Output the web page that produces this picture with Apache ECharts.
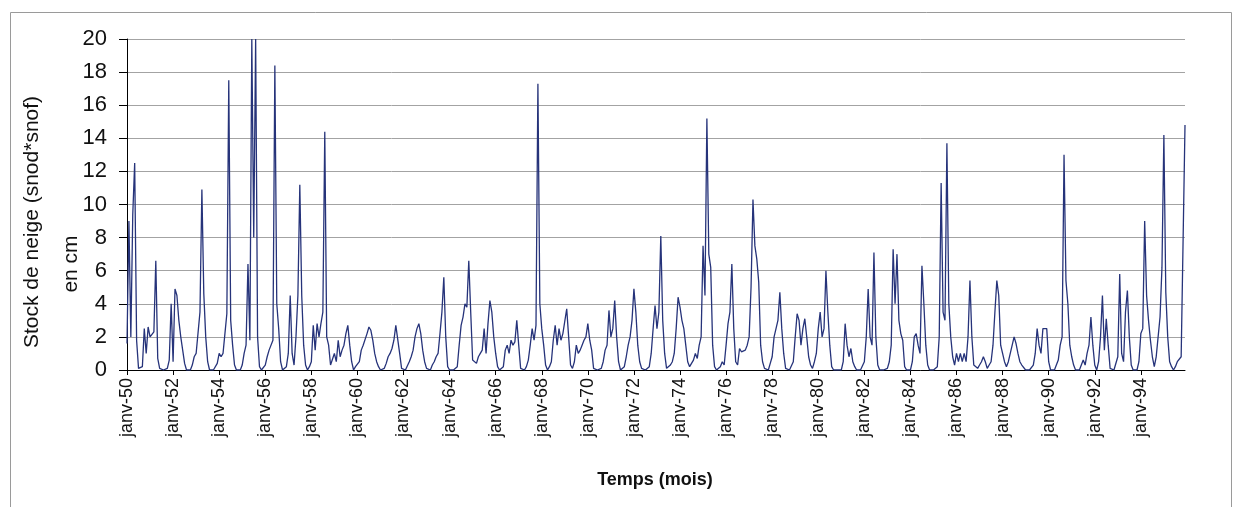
<!DOCTYPE html>
<html lang="fr">
<head>
<meta charset="UTF-8">
<title>Stock de neige</title>
<style>
  html, body { margin: 0; padding: 0; background: #fff; }
  #main { width: 1236px; height: 507px; }
</style>
</head>
<body>
<div id="main"></div>

<script src="https://cdn.jsdelivr.net/npm/echarts@6.0.0/dist/echarts.min.js"></script>
<script>
    // valeurs mensuelles (cm), une ligne = une année (janv -> déc)
    var moisNoms = ['janv', 'févr', 'mars', 'avr', 'mai', 'juin', 'juil', 'août', 'sept', 'oct', 'nov', 'déc'];
    var anneeDebut = 1950;

    var stock50s = [
        1.6, 9.0, 2.0, 9.4, 12.5, 1.8, 0.1, 0, 0.2, 2.5, 1.0, 2.6,
        2.0, 1.9, 2.3, 6.6, 0.7, 0.1, 0, 0, 0, 0.1, 0.6, 4.0,
        0.5, 4.9, 4.5, 3.0, 2.0, 1.2, 0.4, 0, 0, 0, 0.3, 0.8,
        1.0, 1.0, 3.5, 10.9, 4.6, 2.0, 0.5, 0, 0, 0, 0, 0.4,
        1.0, 0.8, 1.0, 2.2, 3.4, 17.5, 3.0, 1.5, 0.3, 0, 0, 0,
        0.3, 1.0, 1.5, 6.4, 1.8, 20, 8.0, 20, 2.0, 0.2, 0, 0,
        0.3, 0.8, 1.2, 1.2, 1.8, 18.4, 4.0, 2.5, 0.5, 0, 0, 0.2,
        1.0, 4.5, 1.0, 0.3, 2.0, 4.5, 11.2, 4.5, 1.5, 0.3, 0, 0.2,
        0.5, 2.7, 1.2, 2.8, 2.0, 2.8, 3.5, 14.4, 2.0, 1.5, 0.3, 0.2,
        1.0, 0.5, 1.8, 0.8, 1.2, 1.5, 2.2, 2.7, 1.5, 0.5, 0, 0.2
    ];
    var stock60s = [
        0.3, 0.5, 1.2, 1.5, 1.6, 2.2, 2.6, 2.4, 1.8, 1.0, 0.5, 0.2,
        0, 0, 0.1, 0.4, 0.8, 1.0, 1.3, 1.8, 2.7, 2.6, 1.0, 0.1,
        0, 0, 0, 0.5, 0.8, 1.2, 2.0, 2.5, 2.8, 2.2, 1.2, 0.5,
        0.1, 0, 0, 0.3, 0.5, 0.8, 1.0, 2.2, 3.5, 5.6, 2.0, 0.2,
        0, 0, 0, 0, 0.2, 1.5, 2.7, 3.2, 4.0, 3.8, 6.6, 3.5,
        0.6, 0.5, 0.4, 0.8, 1.0, 1.2, 2.5, 1.0, 2.8, 4.2, 3.5, 2.0,
        1.0, 0.2, 0, 0.1, 0.2, 1.2, 1.5, 1.0, 1.8, 1.5, 1.7, 3.0,
        1.5, 0.1, 0, 0, 0.2, 0.6, 1.5, 2.5, 1.8, 2.7, 17.3, 4.0,
        2.5, 1.5, 0.3, 0, 0.2, 0.5, 1.8, 2.7, 1.5, 2.5, 1.8, 2.2,
        2.2, 3.7, 2.0, 0.3, 0.1, 0.5, 1.5, 1.0, 1.2, 1.5, 1.8, 2.0
    ];
    var stock70s = [
        2.8, 1.8, 1.2, 0.1, 0, 0, 0, 0.1, 0.5, 1.2, 1.5, 3.6,
        2.0, 2.5, 4.2, 2.0, 0.5, 0, 0, 0.2, 0.8, 1.5, 2.0, 3.0,
        4.9, 3.5, 1.5, 0.5, 0.1, 0, 0, 0, 0.2, 1.0, 2.5, 3.9,
        2.5, 3.5, 8.1, 3.0, 1.0, 0.1, 0, 0.3, 0.5, 1.0, 2.5, 4.4,
        3.8, 3.0, 2.5, 1.5, 0.5, 0.2, 0.4, 0.6, 1.0, 0.7, 1.5, 2.0,
        7.5, 4.5, 15.2, 7.0, 6.2, 1.5, 0.2, 0, 0, 0.2, 0.5, 0.3,
        1.5, 2.8, 3.5, 6.4, 2.5, 0.5, 0.3, 1.3, 1.1, 1.0, 1.2, 1.5,
        2.0, 5.0, 10.3, 7.5, 6.7, 5.3, 1.5, 0.5, 0.1, 0, 0, 0.4,
        0.8, 2.0, 2.5, 3.0, 4.7, 2.5, 1.0, 0.1, 0, 0, 0, 0.5,
        2.0, 3.4, 3.0, 1.5, 2.5, 3.1, 2.0, 0.8, 0.3, 0.1, 0.5, 1.0
    ];
    var stock80s = [
        2.5, 3.5, 2.0, 2.5, 6.0, 3.5, 1.5, 0.2, 0, 0, 0, 0,
        0, 0.5, 2.8, 1.5, 0.8, 1.3, 0.5, 0.2, 0, 0, 0, 0,
        0.5, 2.0, 4.9, 2.0, 1.5, 7.1, 2.0, 0.3, 0, 0, 0, 0,
        0.1, 0.5, 1.5, 7.3, 4.0, 7.0, 3.0, 2.2, 1.8, 0.2, 0, 0,
        0, 0.5, 2.0, 2.2, 1.5, 1.0, 6.3, 4.0, 1.5, 0.3, 0, 0,
        0, 0, 0.2, 2.0, 11.3, 3.5, 3.0, 13.7, 4.0, 2.0, 0.8, 0.3,
        1.0, 0.5, 1.0, 0.5, 1.0, 0.5, 2.0, 5.4, 2.0, 0.3, 0.2, 0.1,
        0.3, 0.5, 0.8, 0.5, 0.1, 0.3, 0.5, 1.5, 3.5, 5.4, 4.5, 1.5,
        1.0, 0.5, 0.2, 0.5, 0.5, 1.5, 2.0, 1.6, 1.0, 0.5, 0.3, 0.2,
        0, 0, 0, 0, 0.3, 1.0, 2.5, 1.5, 1.0, 2.5, 2.5, 2.5
    ];
    var stock90s = [
        0.5, 0, 0, 0, 0.3, 0.6, 1.5, 2.0, 13.0, 5.4, 4.0, 1.5,
        0.8, 0.3, 0, 0, 0, 0.3, 0.6, 0.3, 1.0, 1.5, 3.2, 1.5,
        0.3, 0, 0.5, 2.0, 4.5, 1.2, 3.1, 1.5, 0.1, 0, 0, 0,
        0.8, 5.8, 1.0, 0.5, 3.5, 4.8, 2.0, 0.3, 0, 0, 0, 0.5,
        2.2, 2.5, 9.0, 4.5, 3.0, 1.8, 0.8, 0.2, 0.8, 2.0, 3.2, 6.2,
        14.2, 4.7, 2.0, 0.5, 0.2, 0, 0.2, 0.5, 0.5, 0.8, 0.8, 14.8
    ];

    var stock = stock50s.concat(stock60s, stock70s, stock80s, stock90s);

    var categories = [];
    for (var i = 0; i < stock.length; i++) {
        var an = anneeDebut + Math.floor(i / 12);
        categories.push(moisNoms[i % 12] + '-' + String(an).slice(2));
    }

    var myChart = echarts.init(document.getElementById('main'), null, {renderer: 'canvas'});
    var police = 'Liberation Sans, Arial, sans-serif';

    var option = {
        backgroundColor: '#ffffff',
        animation: false,
        grid: {left: 127, right: 51, top: 39, bottom: 137, containLabel: false},
        xAxis: {
            type: 'category',
            data: categories,
            boundaryGap: false,
            axisLine: {lineStyle: {color: '#000', width: 1}},
            axisTick: {show: true, interval: 23, length: 5, lineStyle: {color: '#000'}},
            axisLabel: {
                interval: 23, rotate: 90, margin: 8,
                fontFamily: police, fontSize: 18, color: '#111'
            },
            splitLine: {show: false}
        },
        yAxis: {
            type: 'value',
            min: 0, max: 20, interval: 2,
            axisLine: {show: true, lineStyle: {color: '#000', width: 1}},
            axisTick: {show: true, length: 8, lineStyle: {color: '#000'}},
            axisLabel: {fontFamily: police, fontSize: 22, color: '#111', margin: 20},
            splitLine: {lineStyle: {color: '#a3a3a3', width: 1}}
        },
        series: [{
            type: 'line',
            data: stock,
            showSymbol: false,
            clip: true,
            lineStyle: {color: '#26337a', width: 1.3}
        }],
        graphic: [
            {
                type: 'rect', silent: true, z: -1,
                shape: {x: 10.5, y: 12.5, width: 1221, height: 500},
                style: {fill: null, stroke: '#9a9a9a', lineWidth: 1}
            },
            {
                type: 'text', x: 32, y: 222, rotation: Math.PI / 2,
                style: {
                    text: 'Stock de neige (snod*snof)', fill: '#111',
                    font: '21px ' + police, textAlign: 'center', textVerticalAlign: 'middle'
                }
            },
            {
                type: 'text', x: 71, y: 264, rotation: Math.PI / 2,
                style: {
                    text: 'en cm', fill: '#111',
                    font: '21px ' + police, textAlign: 'center', textVerticalAlign: 'middle'
                }
            },
            {
                type: 'text', x: 655, y: 480,
                style: {
                    text: 'Temps (mois)', fill: '#111',
                    font: 'bold 18px ' + police, textAlign: 'center', textVerticalAlign: 'middle'
                }
            }
        ]
    };

    myChart.setOption(option);
</script>
</body>
</html>
